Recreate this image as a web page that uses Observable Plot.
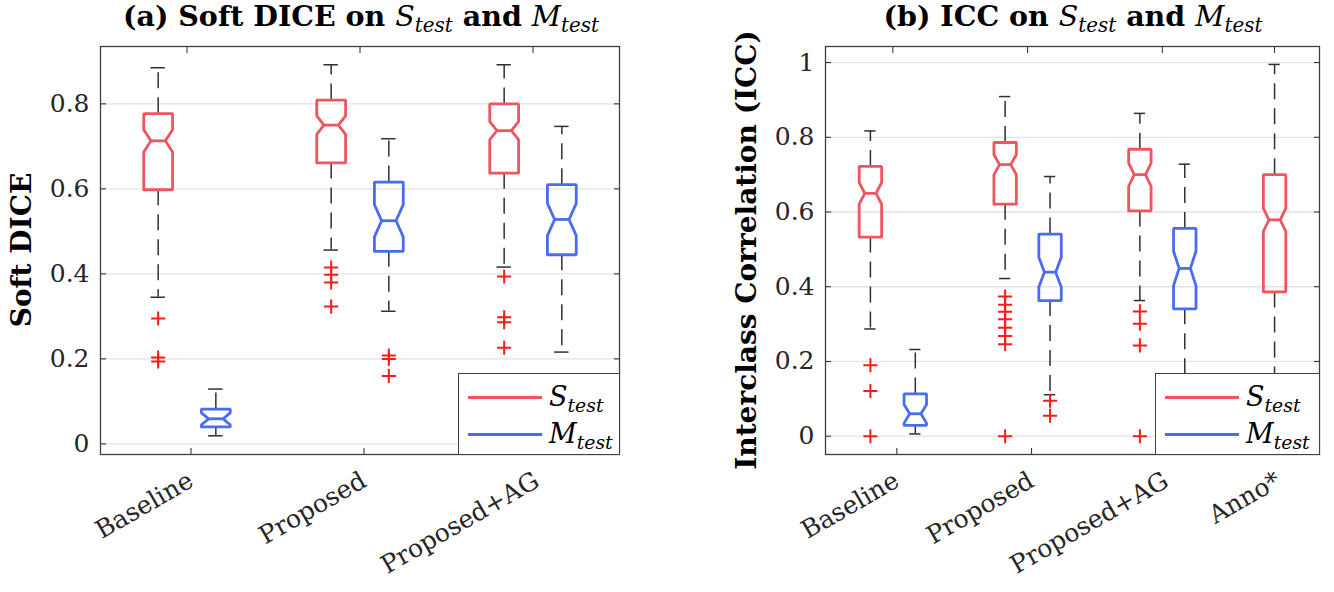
<!DOCTYPE html>
<html>
<head>
<meta charset="utf-8">
<script src="https://cdn.jsdelivr.net/npm/d3@7"></script>
<script src="https://cdn.jsdelivr.net/npm/@observablehq/plot@0.6"></script>
<style>
  body { margin: 0; background: #fff; }
  #wrap { position: relative; width: 1334px; height: 592px; overflow: hidden; font-family: "DejaVu Serif", serif; }
  .panel { position: absolute; top: 0; }
  .title { position: absolute; font-weight: bold; font-size: 28.5px; line-height: 32px; white-space: nowrap; transform: translateX(-50%); color: #000; }
  .title i, .legend i { font-weight: normal; font-style: italic; }
  sub { font-size: 0.7em; vertical-align: baseline; position: relative; top: 0.32em; }
  .ylab { position: absolute; font-weight: bold; font-size: 28px; line-height: 30px; white-space: nowrap; transform: translate(-50%, -50%) rotate(-90deg); color: #000; }
  .legend { position: absolute; background: #fff; border: 1.3px solid #404040; box-sizing: border-box; }
  .legend .item { position: absolute; left: 0; right: 0; height: 36px; }
  .legend .ln { position: absolute; height: 3px; }
  .legend .tx { position: absolute; font-size: 27px; line-height: 36px; color: #000; }
</style>
</head>
<body>
<div id="wrap"></div>
<script>
// ---------------- data ----------------
const groupsA = ["Baseline", "Proposed", "Proposed+AG"];
const groupsB = ["Baseline", "Proposed", "Proposed+AG", "Anno*"];
const seriesKeys = ["S", "M"];           // S_test, M_test
const ticksA = [0, 0.2, 0.4, 0.6, 0.8];
const ticksB = [0, 0.2, 0.4, 0.6, 0.8, 1];

// per box: [lower whisker, Q1, median, Q3, upper whisker, notch half-height]
const diceS = [
  [0.345, 0.598, 0.713, 0.777, 0.885, 0.026],
  [0.456, 0.661, 0.750, 0.809, 0.892, 0.022],
  [0.416, 0.637, 0.737, 0.800, 0.892, 0.021]
];
const diceM = [
  [0.019, 0.040, 0.059, 0.082, 0.129, 0.014],
  [0.312, 0.453, 0.525, 0.616, 0.718, 0.038],
  [0.216, 0.445, 0.528, 0.610, 0.747, 0.038]
];
const diceSOut = [[0.295, 0.203, 0.194], [0.415, 0.398, 0.380, 0.323], [0.394, 0.298, 0.286, 0.226]];
const diceMOut = [[], [0.208, 0.200, 0.160], []];

const iccS = [
  [0.287, 0.533, 0.650, 0.722, 0.817, 0.029],
  [0.422, 0.621, 0.727, 0.786, 0.909, 0.027],
  [0.363, 0.603, 0.700, 0.768, 0.864, 0.031],
  [0.020, 0.386, 0.579, 0.700, 0.995, 0.031]
];
const iccM = [
  [0.006, 0.029, 0.060, 0.113, 0.232, 0.025],
  [0.111, 0.363, 0.439, 0.541, 0.695, 0.040],
  [0.130, 0.341, 0.449, 0.556, 0.728, 0.046],
  null
];
const iccSOut = [[0.190, 0.121, 0], [0.374, 0.352, 0.333, 0.313, 0.290, 0.268, 0.246, 0], [0.334, 0.301, 0.243, 0], []];
const iccMOut = [[], [0.095, 0.055], [], []];

// ---------------- styles ----------------
const colors = {S: "#ef5561", M: "#4a6cf0"};
const outlierColor = "#ff1a1a";
const boxHalf = 0.25, notchHalf = 0.125, capHalf = 0.125;

function buildPanel(groups, sStats, mStats, sOut, mOut) {
  const boxes = [], outliers = [], ticks = [];
  groups.forEach((g, gi) => {
    const sets = [["S", sStats[gi], sOut[gi]], ["M", mStats[gi], mOut[gi]]].filter(d => d[1]);
    ticks.push({pos: gi * 3 + (sets.length - 1) / 2, label: g});
    sets.forEach(([k, st, out], si) => {
      const pos = gi * 3 + si;
      const [lo, q1, med, q3, hi, n] = st;
      boxes.push({key: g + k, k, pos, lo, q1, med, q3, hi, n});
      out.forEach(v => outliers.push({pos, v}));
    });
  });
  const outline = boxes.flatMap(b => {
    const L = b.pos - boxHalf, R = b.pos + boxHalf, l = b.pos - notchHalf, r = b.pos + notchHalf;
    return [[L, b.q1], [L, b.med - b.n], [l, b.med], [L, b.med + b.n], [L, b.q3],
            [R, b.q3], [R, b.med + b.n], [r, b.med], [R, b.med - b.n], [R, b.q1], [L, b.q1]]
      .map(([x, y]) => ({key: b.key, k: b.k, x, y}));
  });
  return {boxes, outliers, ticks, outline};
}

function drawPanel({groups, sStats, mStats, sOut, mOut, yTicks, yDomain, xDomain, marginLeft, marginRight}) {
  const {boxes, outliers, ticks, outline} = buildPanel(groups, sStats, mStats, sOut, mOut);
  const labelOf = new Map(ticks.map(t => [t.pos, t.label]));
  const tickPos = ticks.map(t => t.pos);
  const whisk = {stroke: "#303030", strokeWidth: 1.5};
  return Plot.plot({
    width: 667, height: 592,
    marginLeft, marginRight, marginTop: 46, marginBottom: 138,
    x: {domain: xDomain, axis: null},
    y: {domain: yDomain, axis: null},
    style: {fontFamily: "DejaVu Serif", fontSize: "25px", color: "#262626", background: "transparent", overflow: "visible"},
    marks: [
      Plot.gridY(yTicks, {stroke: "#e3e3e3", strokeOpacity: 1, strokeWidth: 1.3}),
      // whiskers (dashed), from box edge outward
      Plot.ruleX(boxes, {x: "pos", y1: "q3", y2: "hi", ...whisk, strokeDasharray: "16,9"}),
      Plot.ruleX(boxes, {x: "pos", y1: "q1", y2: "lo", ...whisk, strokeDasharray: "16,9"}),
      // caps
      Plot.ruleY(boxes, {y: "hi", x1: d => d.pos - capHalf, x2: d => d.pos + capHalf, ...whisk}),
      Plot.ruleY(boxes, {y: "lo", x1: d => d.pos - capHalf, x2: d => d.pos + capHalf, ...whisk}),
      // notched boxes
      Plot.line(outline, {x: "x", y: "y", z: "key", stroke: d => colors[d.k], strokeWidth: 2.8, strokeLinejoin: "miter", curve: "linear"}),
      // medians
      Plot.ruleY(boxes, {y: "med", x1: d => d.pos - notchHalf, x2: d => d.pos + notchHalf, stroke: d => colors[d.k], strokeWidth: 2.8}),
      // outliers
      Plot.dot(outliers, {x: "pos", y: "v", symbol: "plus", r: 4.6, stroke: outlierColor, strokeWidth: 2}),
      // axes (MATLAB style: ticks inside the box)
      Plot.axisY(yTicks, {anchor: "left", tickSize: -6, tickPadding: 17, tickFormat: d3.format("~g"), fontSize: 25, label: null}),
      Plot.axisY(yTicks, {anchor: "right", tickSize: -6, tickFormat: () => "", label: null}),
      Plot.axisX(tickPos, {anchor: "bottom", tickSize: -6, tickPadding: 30, tickRotate: -30, dx: 4, tickFormat: p => labelOf.get(p), fontSize: 25, label: null}),
      Plot.axisX(tickPos, {anchor: "top", tickSize: -6, tickFormat: () => "", label: null}),
      Plot.frame({stroke: "#404040", strokeWidth: 1.3})
    ]
  });
}

const wrap = document.getElementById("wrap");

const plotA = drawPanel({
  groups: groupsA, sStats: diceS, mStats: diceM, sOut: diceSOut, mOut: diceMOut,
  yTicks: ticksA, yDomain: [-0.025, 0.935], xDomain: [-1, 8],
  marginLeft: 100, marginRight: 48
});
const plotB = drawPanel({
  groups: groupsB, sStats: iccS, mStats: iccM, sOut: iccSOut, mOut: iccMOut,
  yTicks: ticksB, yDomain: [-0.049, 1.043], xDomain: [-1, 10],
  marginLeft: 158, marginRight: 15
});

function place(el, left) {
  const d = document.createElement("div");
  d.className = "panel";
  d.style.left = left + "px";
  d.appendChild(el);
  wrap.appendChild(d);
}
place(plotA, 0);
place(plotB, 667);

function addHTML(html) {
  const t = document.createElement("div");
  t.innerHTML = html;
  while (t.firstChild) wrap.appendChild(t.firstChild);
}

const sLabel = '<i>S<sub>test</sub></i>';
const mLabel = '<i>M<sub>test</sub></i>';

addHTML(`<div class="title" style="left:361px;top:0px">(a) Soft DICE on ${sLabel} and ${mLabel}</div>`);
addHTML(`<div class="title" style="left:1073px;top:0px">(b) ICC on ${sLabel} and ${mLabel}</div>`);
addHTML(`<div class="ylab" style="left:22px;top:250px">Soft DICE</div>`);
addHTML(`<div class="ylab" style="left:747px;top:250px">Interclass Correlation (ICC)</div>`);

function legend(left, top, width, height) {
  const items = seriesKeys.map((k, i) =>
    `<div class="item" style="top:${5 + i * 37}px"><div class="ln" style="left:9px;width:74px;top:17px;background:${colors[k]}"></div><div class="tx" style="left:90px;top:0">${k === "S" ? sLabel : mLabel}</div></div>`
  ).join("");
  addHTML(`<div class="legend" style="left:${left}px;top:${top}px;width:${width}px;height:${height}px">${items}</div>`);
}
legend(458, 373, 162, 82);
legend(1155, 373, 165, 82);
</script>
</body>
</html>
